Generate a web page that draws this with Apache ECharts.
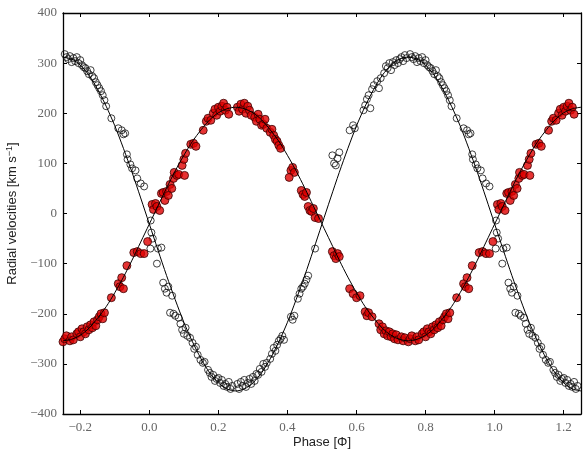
<!DOCTYPE html>
<html>
<head>
<meta charset="utf-8">
<script src="https://cdn.jsdelivr.net/npm/echarts@6/dist/echarts.min.js"></script>
<style>
  html, body { margin: 0; padding: 0; background: #fff; }
  #chart { width: 584px; height: 450px; }
</style>
</head>
<body>
<div id="chart"></div>
<script>
// tick labels
var xTicks = [-0.2, 0.0, 0.2, 0.4, 0.6, 0.8, 1.0, 1.2];
var yTicks = [-400, -300, -200, -100, 0, 100, 200, 300, 400];

// primary (open circles), phase folded in [0,1)
var primaryObs = [
  [0.004,-14],[0.006,-38],[0.01,-50],[0.003,-70],[0.025,-70],[0.035,-68],[0.022,-100],[0.04,-138],
  [0.045,-150],[0.05,-158],[0.055,-146],[0.066,-164],[0.06,-198],[0.07,-200],[0.075,-204],[0.085,-208],
  [0.09,-220],[0.095,-232],[0.1,-240],[0.105,-228],[0.11,-244],[0.118,-248],[0.125,-258],[0.13,-270],
  [0.135,-266],[0.14,-282],[0.148,-292],[0.155,-298],[0.16,-296],[0.17,-312],[0.175,-318],[0.18,-326],
  [0.185,-322],[0.19,-334],[0.195,-330],[0.2,-328],[0.205,-338],[0.21,-332],[0.215,-344],[0.22,-340],
  [0.225,-346],[0.23,-336],[0.235,-350],[0.24,-344],
  [0.255,-340],[0.26,-350],[0.265,-336],[0.27,-344],[0.275,-332],[0.28,-346],[0.285,-338],[0.29,-330],
  [0.295,-340],[0.3,-326],[0.305,-334],[0.31,-320],[0.315,-322],[0.32,-310],[0.325,-316],[0.33,-300],
  [0.335,-306],[0.34,-298],[0.35,-290],[0.355,-280],[0.36,-268],[0.365,-274],[0.37,-262],[0.375,-254],
  [0.38,-250],[0.385,-244],[0.39,-252],[0.41,-206],[0.415,-212],[0.42,-204],[0.43,-170],[0.435,-160],
  [0.44,-150],[0.445,-146],[0.45,-140],[0.455,-132],[0.46,-124],[0.48,-70],
  [0.53,116],[0.535,100],[0.54,96],[0.545,110],[0.55,122],[0.58,166],[0.59,176],[0.595,170],
  [0.62,206],[0.625,216],[0.63,228],[0.635,236],[0.64,210],[0.645,248],[0.65,256],[0.66,264],
  [0.665,250],[0.67,270],[0.68,280],[0.685,294],[0.69,290],[0.695,300],[0.7,286],[0.705,302],
  [0.71,296],[0.715,306],[0.72,300],[0.725,308],[0.73,312],[0.735,304],[0.74,316],[0.745,310],
  [0.755,318],[0.76,312],[0.765,308],[0.77,314],[0.775,302],[0.78,310],[0.785,304],[0.79,312],
  [0.795,300],[0.8,306],[0.805,296],[0.81,292],[0.815,290],[0.82,284],[0.825,278],[0.83,286],
  [0.835,274],[0.84,270],[0.845,262],[0.85,256],[0.855,250],[0.86,244],[0.865,236],[0.87,226],
  [0.875,214],[0.89,190],[0.91,170],[0.92,166],[0.925,158],[0.93,160],[0.935,118],[0.937,108],
  [0.945,98],[0.95,90],[0.96,86],[0.965,70],[0.975,60],[0.985,54]
];

// secondary (filled red), phase folded in [0,1)
var secondaryObs = [
  [0.008,18],[0.012,8],[0.018,20],[0.022,14],[0.03,6],[0.035,40],[0.04,42],[0.045,26],
  [0.05,44],[0.055,36],[0.06,58],[0.065,50],[0.07,70],[0.072,82],[0.08,76],[0.085,78],
  [0.095,96],[0.1,108],[0.105,120],[0.102,76],[0.12,138],[0.128,140],[0.135,134],[0.156,166],
  [0.165,184],[0.17,190],[0.178,186],[0.185,200],[0.19,208],[0.195,196],[0.2,212],[0.205,204],
  [0.21,214],[0.215,220],[0.22,206],[0.225,212],[0.23,198],
  [0.255,212],[0.26,204],[0.265,218],[0.27,208],[0.275,220],[0.28,200],[0.285,214],[0.29,206],
  [0.295,196],[0.305,192],[0.31,184],[0.315,198],[0.32,188],[0.325,176],[0.33,178],[0.335,188],
  [0.34,170],[0.35,162],[0.355,168],[0.36,156],[0.365,148],[0.37,144],[0.375,136],[0.38,130],
  [0.41,86],[0.415,92],[0.42,82],[0.405,72],[0.44,46],[0.445,38],[0.45,34],[0.455,42],
  [0.46,14],[0.465,6],[0.47,4],[0.475,10],[0.48,-8],[0.49,-10],
  [0.53,-76],[0.535,-84],[0.54,-90],[0.545,-80],[0.55,-86],[0.58,-150],[0.59,-160],[0.6,-168],
  [0.61,-164],[0.625,-196],[0.63,-204],[0.635,-198],[0.645,-206],[0.665,-220],[0.67,-232],[0.675,-226],
  [0.68,-240],[0.685,-234],[0.69,-244],[0.695,-236],[0.7,-246],[0.705,-240],[0.71,-250],[0.715,-242],
  [0.72,-252],[0.73,-246],[0.735,-254],[0.74,-248],
  [0.75,-256],[0.755,-250],[0.76,-244],[0.77,-254],[0.775,-246],[0.78,-252],[0.79,-240],[0.795,-236],
  [0.8,-246],[0.805,-230],[0.81,-236],[0.815,-240],[0.82,-226],[0.825,-232],[0.83,-222],[0.835,-228],
  [0.84,-216],[0.845,-224],[0.85,-212],[0.855,-206],[0.86,-200],[0.865,-210],[0.87,-198],[0.89,-168],
  [0.91,-140],[0.915,-146],[0.92,-128],[0.925,-150],[0.935,-104],[0.955,-78],[0.965,-76],[0.975,-80],
  [0.985,-80],[0.995,-56]
];

var fitPhase = [];
for (var i = 0; i <= 60; i++) fitPhase.push(+(-0.25 + i * 0.025).toFixed(3));
var primaryFit = [
  312, 308, 296, 276, 248, 214, 175, 130, 82, 31,
  -21, -73, -124, -172, -217, -256, -290, -318, -338, -350, -354,
  -350, -338, -318, -290, -256, -217, -172, -124, -73, -21,
  31, 82, 130, 175, 214, 248, 276, 296, 308, 312,
  308, 296, 276, 248, 214, 175, 130, 82, 31, -21,
  -73, -124, -172, -217, -256, -290, -318, -338, -350, -354
];
var secondaryFit = [
  -254, -251, -243, -229, -209, -186, -158, -127, -93, -57,
  -21, 15, 51, 85, 116, 144, 167, 187, 201, 209, 212,
  209, 201, 187, 167, 144, 116, 85, 51, 15, -21,
  -57, -93, -127, -158, -186, -209, -229, -243, -251, -254,
  -251, -243, -229, -209, -186, -158, -127, -93, -57, -21,
  15, 51, 85, 116, 144, 167, 187, 201, 209, 212
];

// repeat the folded points outside [0,1) as in the plot
function unfold(obs) {
  var out = [];
  obs.forEach(function (p) {
    out.push(p);
    if (p[0] >= 0.75) out.push([p[0] - 1, p[1]]);
    if (p[0] < 0.25) out.push([p[0] + 1, p[1]]);
  });
  return out;
}
function pairs(xs, ys) {
  return xs.map(function (x, k) { return [x, ys[k]]; });
}
function minus(v) {
  return String(v).replace('-', '\u2212');
}

var myChart = echarts.init(document.getElementById('chart'));
var tickFont = { fontFamily: 'Liberation Serif', fontSize: 13, color: '#666' };
var frameLine = { show: true, onZero: false, lineStyle: { color: '#000', width: 1.3 } };

var option = {
  animation: false,
  grid: { left: 63, right: 3, top: 13, bottom: 36, containLabel: false, outerBoundsMode: 'none' },
  xAxis: [{
    type: 'value', min: -0.25, max: 1.25, position: 'bottom',
    name: 'Phase [\u03A6]', nameLocation: 'middle', nameGap: 22, nameMoveOverlap: false,
    nameTextStyle: { fontFamily: 'Liberation Sans', fontSize: 13, color: '#222' },
    axisLine: frameLine,
    axisTick: { inside: true, length: 4, customValues: xTicks, lineStyle: { color: '#000' } },
    axisLabel: Object.assign({ customValues: xTicks, margin: 7,
      formatter: function (v) { return minus(v.toFixed(1)); } }, tickFont),
    splitLine: { show: false }
  }, {
    type: 'value', min: -0.25, max: 1.25, position: 'top',
    axisLine: frameLine,
    axisTick: { inside: true, length: 4, customValues: xTicks, lineStyle: { color: '#000' } },
    axisLabel: { show: false },
    splitLine: { show: false }
  }],
  yAxis: [{
    type: 'value', min: -400, max: 400, interval: 100, position: 'left',
    name: 'Radial velocities [km s{sup|\u22121}]', nameLocation: 'middle', nameGap: 44, nameMoveOverlap: false,
    nameTextStyle: { fontFamily: 'Liberation Sans', fontSize: 13, color: '#222',
      rich: { sup: { fontFamily: 'Liberation Sans', fontSize: 9, verticalAlign: 'top', padding: [0, 0, 5, 0] } } },
    axisLine: frameLine,
    axisTick: { inside: true, length: 4, lineStyle: { color: '#000' } },
    axisLabel: Object.assign({ margin: 6, formatter: function (v) { return minus(v); } }, tickFont),
    splitLine: { show: false }
  }, {
    type: 'value', min: -400, max: 400, interval: 100, position: 'right',
    axisLine: frameLine,
    axisTick: { inside: true, length: 4, lineStyle: { color: '#000' } },
    axisLabel: { show: false },
    splitLine: { show: false }
  }],
  series: [{
    name: 'primary', type: 'scatter',
    data: unfold(primaryObs),
    symbol: 'circle', symbolSize: 7,
    itemStyle: { color: 'rgba(255,255,255,0)', borderColor: '#111', borderWidth: 1 },
    z: 2
  }, {
    name: 'secondary', type: 'scatter',
    data: unfold(secondaryObs),
    symbol: 'circle', symbolSize: 8,
    itemStyle: { color: '#e00000', borderColor: '#3a0000', borderWidth: 1 },
    z: 3
  }, {
    name: 'primary fit', type: 'line', smooth: 0.3, showSymbol: false,
    data: pairs(fitPhase, primaryFit),
    lineStyle: { color: '#000', width: 1 }, z: 4
  }, {
    name: 'secondary fit', type: 'line', smooth: 0.3, showSymbol: false,
    data: pairs(fitPhase, secondaryFit),
    lineStyle: { color: '#000', width: 1 }, z: 4
  }]
};
myChart.setOption(option);
window.addEventListener('resize', function () {
  myChart.resize();
});
</script>
</body>
</html>
